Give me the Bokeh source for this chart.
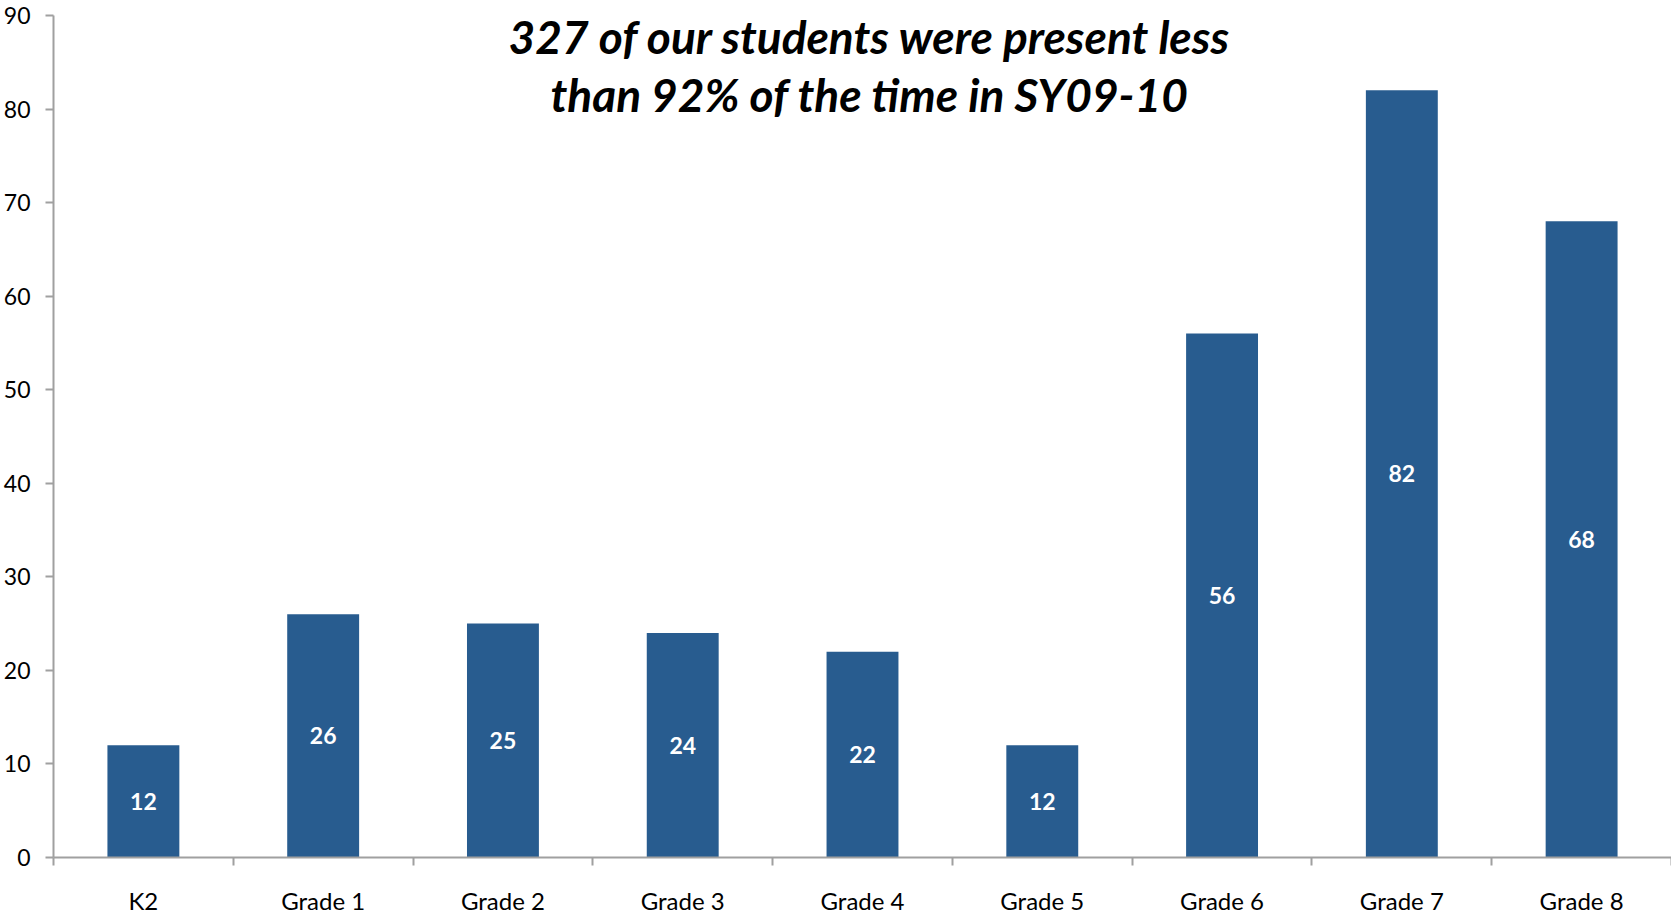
from bokeh.plotting import figure
from bokeh.models import ColumnDataSource, FixedTicker, Label, Range1d
from bokeh.core.properties import value
from bokeh.embed import file_html
from bokeh.resources import INLINE

categories = ["K2", "Grade 1", "Grade 2", "Grade 3", "Grade 4", "Grade 5", "Grade 6", "Grade 7", "Grade 8"]
students = [12, 26, 25, 24, 22, 12, 56, 82, 68]
y_ticks = [0, 10, 20, 30, 40, 50, 60, 70, 80, 90]
title_lines = ["327 of our students were present less", "than 92% of the time in SY09-10"]

FONT = "Lato"
BAR = "#285C8F"
AXIS = "#A0A0A0"

xs = [i + 0.5 for i in range(len(categories))]
src = ColumnDataSource(dict(x=xs, top=students, mid=[v / 2 for v in students],
                            lbl=[str(v) for v in students]))

p = figure(width=1671, height=917, output_backend="svg", toolbar_location=None,
           x_range=Range1d(0, len(categories)), y_range=Range1d(0, 90),
           min_border_left=53, min_border_right=0, min_border_top=15, min_border_bottom=58)
p.outline_line_color = None
p.xgrid.grid_line_color = None
p.ygrid.grid_line_color = None
p.background_fill_color = "white"
p.border_fill_color = "white"

p.vbar(x="x", top="top", width=0.4, bottom=0, source=src, fill_color=BAR, line_color=None)
p.text(x="x", y="mid", text="lbl", source=src, text_color="white",
       text_font=value(FONT), text_font_style="bold", text_font_size="23px",
       text_align="center", text_baseline="middle")

# x axis: labels at centres, ticks at category boundaries
xa = p.xaxis[0]
xa.ticker = FixedTicker(ticks=xs, minor_ticks=list(range(len(categories) + 1)))
xa.major_label_overrides = {x: c for x, c in zip(xs, categories)}
xa.major_tick_line_color = None
xa.major_tick_out = 0
xa.major_tick_in = 0
xa.minor_tick_line_color = AXIS
xa.minor_tick_line_width = 2
xa.minor_tick_out = 8
xa.minor_tick_in = 0
xa.axis_line_color = AXIS
xa.axis_line_width = 2
xa.major_label_text_font = FONT
xa.major_label_text_font_size = "24px"
xa.major_label_text_color = "black"
xa.major_label_standoff = 20

ya = p.yaxis[0]
ya.ticker = FixedTicker(ticks=y_ticks, minor_ticks=[])
ya.major_tick_line_color = AXIS
ya.major_tick_line_width = 2
ya.major_tick_out = 8
ya.major_tick_in = 0
ya.minor_tick_line_color = None
ya.axis_line_color = AXIS
ya.axis_line_width = 2
ya.major_label_text_font = FONT
ya.major_label_text_font_size = "23px"
ya.major_label_text_color = "black"
ya.major_label_standoff = 15

for txt, yv in zip(title_lines, [87.8, 81.6]):
    p.add_layout(Label(x=4.54, y=yv, text=txt, text_align="center", text_baseline="middle",
                       text_font=FONT, text_font_style="bold italic", text_font_size="46px",
                       text_color="black"))

open("out.html", "w").write(file_html(p, INLINE))
